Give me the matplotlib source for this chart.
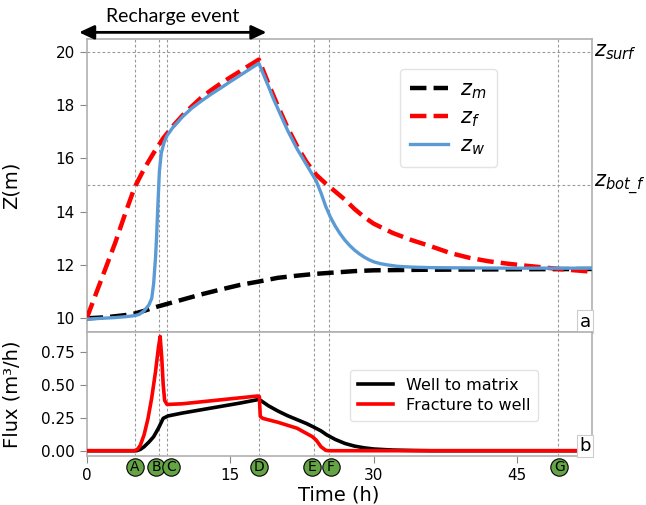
import numpy as np
import matplotlib
matplotlib.use('Agg')
import matplotlib.pyplot as plt

# -------------------------------------------------
# data (time in h)
# -------------------------------------------------
t_zf = [0, 1, 2, 3, 4, 5, 6, 7, 8, 9, 10, 11, 12, 13, 14, 15, 16, 17, 18,
        19, 20, 21, 22, 23, 24, 25, 26, 27, 28, 29, 30, 32, 34, 36, 38, 40,
        42, 44, 46, 48, 50, 52.8]
z_f = [10.0, 10.95, 11.9, 12.85, 13.9, 14.9, 15.6, 16.2, 16.75, 17.2, 17.6,
       17.95, 18.28, 18.55, 18.8, 19.03, 19.25, 19.48, 19.7,
       18.8, 17.95, 17.15, 16.45, 15.85, 15.38, 15.05, 14.75, 14.45, 14.1,
       13.8, 13.55, 13.2, 12.93, 12.7, 12.45, 12.27, 12.14, 12.05, 11.97,
       11.9, 11.83, 11.75]

t_zw = [0, 1, 2, 3, 4, 5, 5.5, 6, 6.5, 6.8, 7.0, 7.2, 7.3, 7.45, 7.6, 7.8,
        8.1, 8.4, 9, 10, 11, 12, 13, 14, 15, 16, 17, 18,
        19, 19.5, 20, 21, 22, 23, 23.5, 24, 24.5, 25, 25.5, 26, 26.5, 27,
        27.5, 28, 28.5, 29, 29.5, 30, 30.7, 31.5, 32.5, 34, 36, 40, 45, 52.8]
z_w = [9.97, 9.99, 10.01, 10.03, 10.06, 10.1, 10.15, 10.28, 10.5, 10.75,
       11.3, 12.3, 13.0, 14.3, 15.5, 16.2, 16.6, 16.85, 17.15, 17.55, 17.88,
       18.15, 18.4, 18.63, 18.87, 19.1, 19.33, 19.56,
       18.7, 18.25, 17.85, 17.05, 16.35, 15.75, 15.45, 15.15, 14.7, 14.19,
       13.78, 13.45, 13.17, 12.93, 12.73, 12.56, 12.42, 12.3, 12.2, 12.12,
       12.05, 12.0, 11.95, 11.92, 11.9, 11.89, 11.88, 11.88]

t_zm = [0, 2, 4, 5, 6, 7, 8, 9, 10, 12, 14, 16, 18, 20, 22, 24, 26, 28, 30,
        35, 40, 45, 52.8]
z_m = [10.0, 10.04, 10.12, 10.18, 10.28, 10.4, 10.5, 10.6, 10.7, 10.9,
       11.08, 11.25, 11.38, 11.52, 11.6, 11.67, 11.72, 11.77, 11.8, 11.82,
       11.83, 11.84, 11.85]

t_wm = [0, 5.2, 5.6, 6.0, 6.5, 7.0, 7.5, 8.0, 8.5, 10, 12, 14, 16, 17.8,
        18, 19, 20, 21, 22, 23, 23.7, 24.5, 25.1, 26, 27, 28, 29, 30, 32,
        34, 36, 52.8]
q_wm = [0, 0, 0.01, 0.03, 0.065, 0.106, 0.17, 0.245, 0.263, 0.285, 0.31,
        0.335, 0.36, 0.385, 0.39, 0.34, 0.3, 0.265, 0.235, 0.205, 0.18, 0.15,
        0.12, 0.085, 0.055, 0.035, 0.022, 0.013, 0.005, 0.002, 0.0, 0.0]

t_fw = [0, 5.0, 5.3, 5.6, 6.0, 6.4, 6.8, 7.2, 7.5, 7.68, 7.85, 8.0, 8.15,
        8.4, 10, 12, 14, 16, 17.9, 18.05, 18.15, 18.4, 20, 22, 23, 23.6, 24,
        24.5, 25, 25.3, 52.8]
q_fw = [0, 0, 0.01, 0.04, 0.12, 0.24, 0.4, 0.6, 0.78, 0.864, 0.7, 0.5,
        0.38, 0.35, 0.355, 0.37, 0.385, 0.4, 0.414, 0.41, 0.26, 0.245, 0.215,
        0.17, 0.13, 0.106, 0.08, 0.03, 0.003, 0.0, 0.0]

events = ['A', 'B', 'C', 'D', 'E', 'F', 'G']
t_events = [5.1, 7.6, 8.4, 18.0, 23.8, 25.3, 49.3]
t_badges = [5.06, 7.26, 8.8, 18.0, 23.6, 25.55, 49.4]   # circles pushed apart

z_surf = 20
z_bot_f = 15

# -------------------------------------------------
# figure
# -------------------------------------------------
fig = plt.figure(figsize=(6.46, 5.05), dpi=100)
ax1 = fig.add_axes([0.1342, 0.3432, 0.7817, 0.5790])
ax2 = fig.add_axes([0.1342, 0.0970, 0.7817, 0.2461], sharex=ax1)

spine_col = '#b0b0b0'
grid_kw = dict(color='#999999', lw=0.8, ls=(0, (2.5, 2)), zorder=1)
for ax in (ax1, ax2):
    for s in ax.spines.values():
        s.set_color(spine_col)
        s.set_linewidth(1.2)
    ax.tick_params(colors='#888888', labelcolor='black', labelsize=11,
                   length=5)
    for te in t_events:
        ax.axvline(te, **grid_kw)

# --- top panel: water levels
ax1.axhline(z_surf, **grid_kw)
ax1.axhline(z_bot_f, **grid_kw)
ax1.plot(t_zm, z_m, color='black', lw=3.2, ls='--', label='$z_m$', zorder=3)
ax1.plot(t_zf, z_f, color='red', lw=3.2, ls='--', label='$z_f$', zorder=3)
ax1.plot(t_zw, z_w, color='#5b9bd5', lw=2.4, label='$z_w$', zorder=4)

ax1.set_xlim(0, 52.8)
ax1.set_ylim(9.5, 20.46)
ax1.set_yticks([10, 12, 14, 16, 18, 20])
ax1.tick_params(axis='x', bottom=False, labelbottom=False)
ax1.set_ylabel('Z(m)', fontsize=14)
ax1.yaxis.set_label_coords(-0.13, 0.5)

ax1.text(1.005, z_surf, '$z_{surf}$', transform=ax1.get_yaxis_transform(),
         fontsize=15, va='center', ha='left')
ax1.text(1.005, z_bot_f, '$z_{bot\\_f}$', transform=ax1.get_yaxis_transform(),
         fontsize=15, va='center', ha='left')

leg1 = ax1.legend(loc='upper left', bbox_to_anchor=(0.62, 0.898),
                  borderaxespad=0, fontsize=15, handlelength=1.8,
                  handletextpad=0.6, labelspacing=0.3, borderpad=0.5)
leg1.get_frame().set_edgecolor('#dddddd')

# recharge event arrow
ax1.annotate('', xy=(-0.8, 20.72), xytext=(18.8, 20.72),
             arrowprops=dict(arrowstyle='<|-|>,head_length=0.6,head_width=0.28',
                             color='black', lw=2, shrinkA=0, shrinkB=0,
                             mutation_scale=15),
             annotation_clip=False)
ax1.text(9.0, 21.31, 'Recharge event', fontsize=14, family='Lato',
         ha='center', va='center', clip_on=False)

# --- bottom panel: fluxes
ax2.plot(t_wm, q_wm, color='black', lw=2.6, label='Well to matrix', zorder=3)
ax2.plot(t_fw, q_fw, color='red', lw=2.6, label='Fracture to well', zorder=4)
ax2.set_ylim(-0.04, 0.90)
ax2.set_yticks([0, 0.25, 0.5, 0.75])
ax2.set_yticklabels(['0.00', '0.25', '0.50', '0.75'])
ax2.set_xticks([0, 15, 30, 45])
ax2.set_xlabel('Time (h)', fontsize=14, labelpad=2)
ax2.set_ylabel('Flux (m³/h)', fontsize=14)
ax2.yaxis.set_label_coords(-0.13, 0.5)
leg2 = ax2.legend(loc='upper left', bbox_to_anchor=(0.521, 0.692),
                  borderaxespad=0, fontsize=11.5, handlelength=2.2,
                  labelspacing=0.3, borderpad=0.5)
leg2.get_frame().set_edgecolor('#dddddd')

# event markers below the time axis
trans = ax2.get_xaxis_transform()
ax2.plot(t_badges, [-0.085] * len(t_badges), 'o', ms=12.5,
         mfc='#64a444', mec='black', mew=0.8, transform=trans, clip_on=False)
for lab, tb in zip(events, t_badges):
    ax2.text(tb, -0.085, lab, transform=trans, ha='center', va='center',
             fontsize=10, clip_on=False)

# panel tags
box = dict(boxstyle='square,pad=0.12', fc='white', ec='#cccccc', lw=0.8)
ax1.text(0.998, 0.004, 'a', transform=ax1.transAxes, ha='right', va='bottom',
         fontsize=13, bbox=box, zorder=6)
ax2.text(0.998, 0.01, 'b', transform=ax2.transAxes, ha='right', va='bottom',
         fontsize=13, bbox=box, zorder=6)

fig.savefig('out.png', dpi=100)
